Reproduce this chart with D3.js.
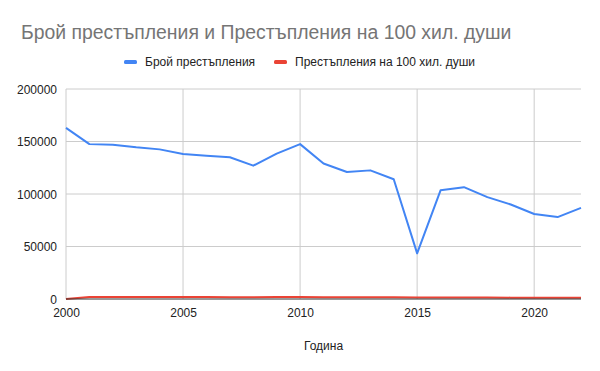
<!DOCTYPE html>
<html>
<head>
<meta charset="utf-8">
<script src="https://cdn.jsdelivr.net/npm/d3@7"></script>
<style>
  body { margin: 0; background: #fff; }
  svg { font-family: "Liberation Sans", Arial, sans-serif; }
</style>
</head>
<body>
<div id="container"></div>
<script>
const WIDTH = 600;
const HEIGHT = 371;

// данни
const years = [2000, 2001, 2002, 2003, 2004, 2005, 2006, 2007, 2008, 2009, 2010, 2011,
    2012, 2013, 2014, 2015, 2016, 2017, 2018, 2019, 2020, 2021, 2022];
const crimes = [163000, 147500, 147000, 144500, 142500, 138000, 136500, 135000, 127000,
    138500, 147500, 129000, 121000, 122500, 114000, 43500, 103500, 106500, 97000, 90000,
    81000, 78000, 86800];
const per100k = [0, 1880, 1890, 1860, 1840, 1800, 1790, 1760, 1680, 1830, 1960, 1750,
    1660, 1690, 1580, 1480, 1470, 1520, 1390, 1300, 1180, 1140, 1270];
const yTicks = [0, 50000, 100000, 150000, 200000];
const xTicks = [2000, 2005, 2010, 2015, 2020];
const seriesNames = ["Брой престъпления", "Престъпления на 100 хил. души"];
const colors = ["#4285f4", "#ea4335"];

const margin = { left: 66, right: 19, top: 89, bottom: 72 };

const svg = d3.select("#container").append("svg")
    .attr("width", WIDTH)
    .attr("height", HEIGHT);

const x = d3.scaleLinear().domain([2000, 2022]).range([margin.left, WIDTH - margin.right]);
const y = d3.scaleLinear().domain([0, 200000]).range([HEIGHT - margin.bottom, margin.top]);

// заглавие
svg.append("text")
    .attr("x", 21)
    .attr("y", 39)
    .attr("fill", "#757575")
    .style("font-size", "19.4px")
    .text("Брой престъпления и Престъпления на 100 хил. души");

// легенда
const legendX = [124, 274];
seriesNames.forEach((name, i) => {
    svg.append("rect")
        .attr("x", legendX[i])
        .attr("y", 60)
        .attr("width", 13)
        .attr("height", 4)
        .attr("rx", 1.5)
        .attr("fill", colors[i]);
    svg.append("text")
        .attr("x", legendX[i] + 21)
        .attr("y", 66)
        .attr("fill", "#222")
        .style("font-size", "12px")
        .text(name);
});

// решетка
svg.append("g").selectAll("line")
    .data(yTicks.filter(d => d !== 0))
    .enter().append("line")
    .attr("x1", x(2000)).attr("x2", x(2022))
    .attr("y1", d => y(d)).attr("y2", d => y(d))
    .attr("stroke", "#cccccc");
svg.append("g").selectAll("line")
    .data(xTicks)
    .enter().append("line")
    .attr("x1", d => x(d)).attr("x2", d => x(d))
    .attr("y1", y(200000)).attr("y2", y(0))
    .attr("stroke", "#cccccc");

// оси
const yAxis = d3.axisLeft(y).tickValues(yTicks).tickSize(0).tickPadding(9).tickFormat(d3.format("d"));
svg.append("g")
    .attr("transform", `translate(${margin.left},0)`)
    .call(yAxis)
    .call(g => g.select(".domain").remove())
    .call(g => g.selectAll("text").attr("fill", "#222").style("font-size", "12px").attr("dy", "0.35em"));

const xAxis = d3.axisBottom(x).tickValues(xTicks).tickSize(0).tickPadding(9).tickFormat(d3.format("d"));
svg.append("g")
    .attr("transform", `translate(0,${y(0)})`)
    .call(xAxis)
    .call(g => g.select(".domain").remove())
    .call(g => g.selectAll("text").attr("fill", "#222").style("font-size", "12px"));

svg.append("text")
    .attr("x", (x(2000) + x(2022)) / 2)
    .attr("y", 350)
    .attr("text-anchor", "middle")
    .attr("fill", "#222")
    .style("font-size", "12px")
    .text("Година");

// линии
const line = d3.line().x((d, i) => x(years[i])).y(d => y(d));
[crimes, per100k].forEach((data, i) => {
    svg.append("path")
        .datum(data)
        .attr("fill", "none")
        .attr("stroke", colors[i])
        .attr("stroke-width", 2)
        .attr("stroke-linejoin", "round")
        .attr("d", line);
});

// базова линия
svg.append("line")
    .attr("x1", x(2000)).attr("x2", x(2022))
    .attr("y1", y(0)).attr("y2", y(0))
    .attr("stroke", "#333333");
</script>
</body>
</html>
